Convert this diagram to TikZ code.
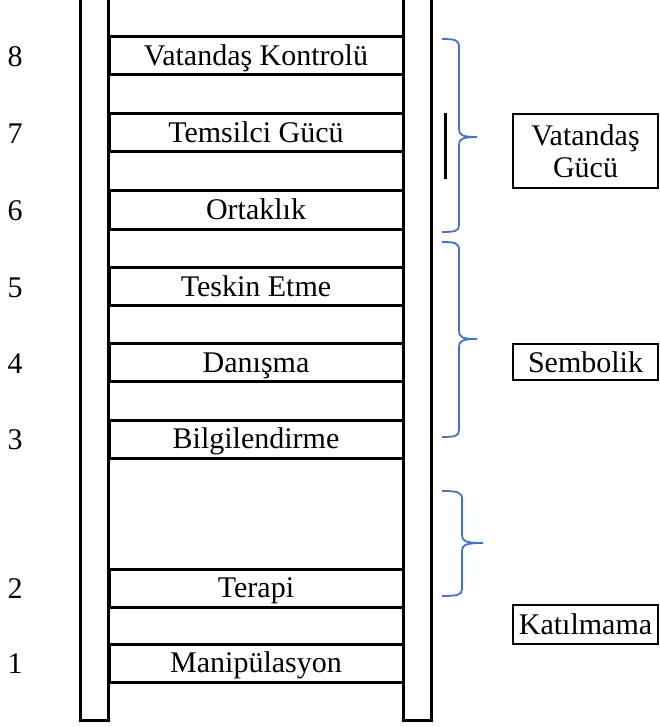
\documentclass[tikz,border=0pt]{standalone}
\usepackage{fontspec}
\setmainfont{Liberation Serif}
\definecolor{braceblue}{HTML}{4472C4}
\begin{document}
\begin{tikzpicture}[x=1pt,y=-1pt,
  font=\fontsize{30}{32}\selectfont,
  rail/.style={line width=3pt},
  rung/.style={draw, line width=3pt, minimum width=294pt, minimum height=38pt, inner sep=0pt,
    text height=19.8pt, text depth=0pt},
  numlbl/.style={inner sep=0pt, text height=19.8pt, text depth=0pt},
  group/.style={draw, line width=2pt, inner sep=0pt, align=center, minimum width=145pt},
  bracestyle/.style={draw=braceblue, line width=1.8pt},
  blackbar/.style={line width=3pt}]
\useasboundingbox (0,0) rectangle (659,727);
% rails
\draw[rail] (80.5,0) -- (80.5,720) -- (108.5,720) -- (108.5,0);
\draw[rail] (403.5,0) -- (403.5,720) -- (431.5,720) -- (431.5,0);
% rungs
\node[rung] (r8) at (256,56) {Vatandaş Kontrolü};
\node[rung] (r7) at (256,133) {Temsilci Gücü};
\node[rung] (r6) at (256,210) {Ortaklık};
\node[rung] (r5) at (256,286.5) {Teskin Etme};
\node[rung] (r4) at (256,362.5) {Danışma};
\node[rung] (r3) at (256,439) {Bilgilendirme};
\node[rung] (r2) at (256,588) {Terapi};
\node[rung] (r1) at (256,663) {Manipülasyon};
% numbers
\node[numlbl] (n8) at (15,57) {8};
\node[numlbl] (n7) at (15,134) {7};
\node[numlbl] (n6) at (15,211) {6};
\node[numlbl] (n5) at (15,287.5) {5};
\node[numlbl] (n4) at (15,363.5) {4};
\node[numlbl] (n3) at (15,440) {3};
\node[numlbl] (n2) at (15,589) {2};
\node[numlbl] (n1) at (15,664) {1};
% braces
\draw[bracestyle] (442,39) .. controls (455,39) and (459,40) .. (459,47) -- (459,129)
  .. controls (459,135) and (462,137) .. (477,137)
  .. controls (462,137) and (459,139) .. (459,145) -- (459,225)
  .. controls (459,231) and (455,232) .. (442,232);
\draw[bracestyle] (442,242) .. controls (455,242) and (459,243) .. (459,250) -- (459,331)
  .. controls (459,337) and (462,339) .. (477,339)
  .. controls (462,339) and (459,341) .. (459,347) -- (459,430)
  .. controls (459,436) and (455,437) .. (442,437);
\draw[bracestyle] (442,491) .. controls (457,491) and (462,492) .. (462,499) -- (462,535)
  .. controls (462,541) and (465,543) .. (483,543)
  .. controls (465,543) and (462,545) .. (462,551) -- (462,589)
  .. controls (462,595) and (457,596) .. (442,596);
% black bar
\draw[blackbar] (445,113) -- (445,179);
% group labels
\node[group, minimum height=74pt] (g1) at (585.5,151) {Vatandaş\\Gücü};
\node[group, minimum height=36pt] (g2) at (585.5,362) {Sembolik};
\node[group, minimum height=39pt] (g3) at (585.5,624.5) {Katılmama};
\end{tikzpicture}
\end{document}
